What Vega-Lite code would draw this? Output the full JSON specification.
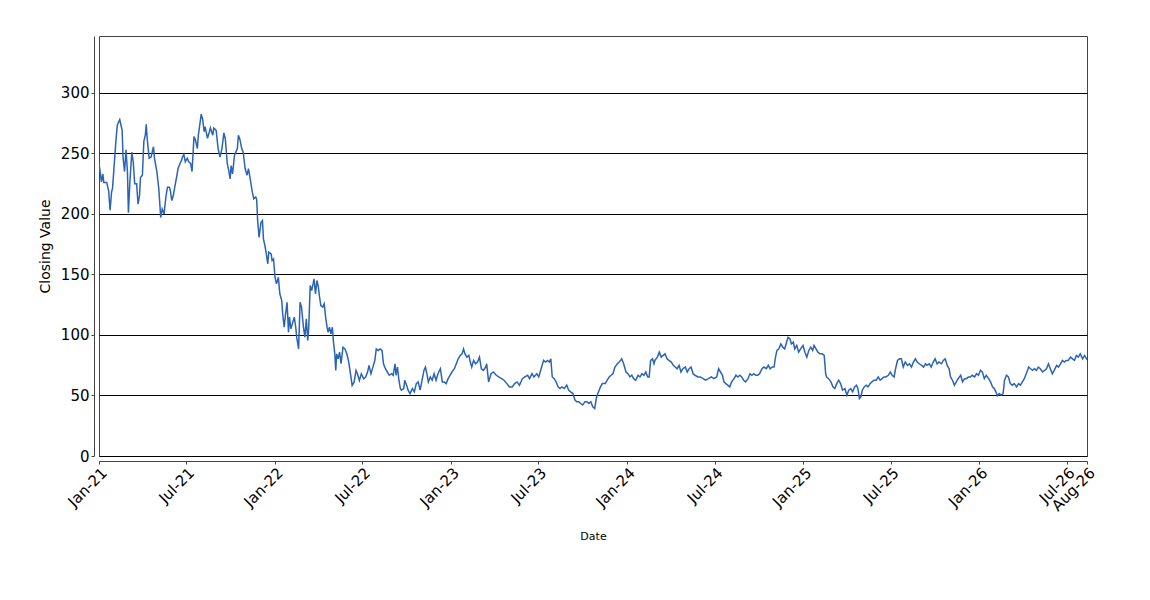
{
  "$schema": "https://vega.github.io/schema/vega-lite/v6.json",
  "autosize": {"type": "none"},
  "padding": {"left": 99, "top": 36, "right": 63, "bottom": 144},
  "width": 988,
  "height": 420,
  "background": "white",
  "config": {
    "view": {"stroke": "#444", "strokeWidth": 1},
    "font": "DejaVu Sans"
  },
  "data": {"values": [
    {"date":"2021-01-01","close":241.7},{"date":"2021-01-06","close":226.4},{"date":"2021-01-09","close":233},{"date":"2021-01-11","close":226},{"date":"2021-01-17","close":226},{"date":"2021-01-21","close":219},{"date":"2021-01-24","close":203},{"date":"2021-01-27","close":218},{"date":"2021-01-29","close":221},
    {"date":"2021-02-02","close":243},{"date":"2021-02-05","close":260},{"date":"2021-02-08","close":273.6},{"date":"2021-02-13","close":278},{"date":"2021-02-18","close":269},{"date":"2021-02-20","close":246},{"date":"2021-02-23","close":235},{"date":"2021-02-26","close":253},
    {"date":"2021-03-01","close":235},{"date":"2021-03-03","close":201},{"date":"2021-03-06","close":226},{"date":"2021-03-10","close":251},{"date":"2021-03-13","close":243},{"date":"2021-03-16","close":225},{"date":"2021-03-20","close":225},{"date":"2021-03-23","close":208},{"date":"2021-03-26","close":215},{"date":"2021-03-28","close":230},
    {"date":"2021-04-01","close":232},{"date":"2021-04-04","close":260},{"date":"2021-04-07","close":265},{"date":"2021-04-09","close":274},{"date":"2021-04-11","close":262},{"date":"2021-04-15","close":246},{"date":"2021-04-19","close":247},{"date":"2021-04-24","close":255.5},{"date":"2021-04-26","close":246},
    {"date":"2021-05-01","close":235},{"date":"2021-05-05","close":221},{"date":"2021-05-09","close":197},{"date":"2021-05-12","close":204},{"date":"2021-05-16","close":200},{"date":"2021-05-20","close":215},{"date":"2021-05-23","close":222},{"date":"2021-05-27","close":222},{"date":"2021-05-29","close":219},
    {"date":"2021-06-01","close":211},{"date":"2021-06-04","close":215},{"date":"2021-06-07","close":222},{"date":"2021-06-11","close":230.5},{"date":"2021-06-14","close":237.5},{"date":"2021-06-18","close":241.7},{"date":"2021-06-21","close":244},{"date":"2021-06-23","close":247},{"date":"2021-06-26","close":249},{"date":"2021-06-29","close":243},
    {"date":"2021-07-03","close":246},{"date":"2021-07-06","close":243},{"date":"2021-07-10","close":241.7},{"date":"2021-07-13","close":235},{"date":"2021-07-17","close":264},{"date":"2021-07-20","close":261},{"date":"2021-07-24","close":254},{"date":"2021-07-26","close":265},{"date":"2021-07-29","close":273.6},
    {"date":"2021-08-01","close":282.5},{"date":"2021-08-04","close":278},{"date":"2021-08-07","close":268},{"date":"2021-08-09","close":272},{"date":"2021-08-14","close":262.5},{"date":"2021-08-18","close":268},{"date":"2021-08-20","close":271},{"date":"2021-08-25","close":265},{"date":"2021-08-27","close":271},
    {"date":"2021-09-01","close":269},{"date":"2021-09-05","close":254},{"date":"2021-09-09","close":247},{"date":"2021-09-13","close":254},{"date":"2021-09-17","close":267},{"date":"2021-09-20","close":262},{"date":"2021-09-24","close":241.7},{"date":"2021-09-27","close":236},{"date":"2021-09-30","close":229},
    {"date":"2021-10-02","close":240},{"date":"2021-10-05","close":233},{"date":"2021-10-09","close":248.6},{"date":"2021-10-15","close":254},{"date":"2021-10-17","close":265},{"date":"2021-10-20","close":262},{"date":"2021-10-24","close":254},{"date":"2021-10-27","close":251},{"date":"2021-10-31","close":237.5},
    {"date":"2021-11-04","close":232},{"date":"2021-11-07","close":237.5},{"date":"2021-11-11","close":228},{"date":"2021-11-15","close":218},{"date":"2021-11-18","close":212.5},{"date":"2021-11-22","close":214},{"date":"2021-11-24","close":212},{"date":"2021-11-26","close":194.5},{"date":"2021-11-29","close":180.7},
    {"date":"2021-12-03","close":193},{"date":"2021-12-06","close":194.5},{"date":"2021-12-08","close":179.4},{"date":"2021-12-11","close":173.9},{"date":"2021-12-14","close":167},{"date":"2021-12-17","close":158.7},{"date":"2021-12-19","close":168.4},{"date":"2021-12-24","close":167},{"date":"2021-12-26","close":161.5},{"date":"2021-12-29","close":162.8},
    {"date":"2022-01-01","close":147.7},{"date":"2022-01-04","close":142.2},{"date":"2022-01-08","close":147.7},{"date":"2022-01-11","close":134},{"date":"2022-01-15","close":128.4},{"date":"2022-01-17","close":117.4},{"date":"2022-01-20","close":106.4},{"date":"2022-01-23","close":117.4},{"date":"2022-01-26","close":127},{"date":"2022-01-29","close":102.3},{"date":"2022-01-31","close":114.7},
    {"date":"2022-02-03","close":105},{"date":"2022-02-07","close":110.6},{"date":"2022-02-10","close":114.7},{"date":"2022-02-13","close":106.4},{"date":"2022-02-15","close":98.2},{"date":"2022-02-19","close":88.5},{"date":"2022-02-22","close":127},{"date":"2022-02-25","close":123},
    {"date":"2022-03-01","close":106.4},{"date":"2022-03-04","close":98.2},{"date":"2022-03-07","close":113.3},{"date":"2022-03-10","close":95.4},{"date":"2022-03-12","close":106.4},{"date":"2022-03-15","close":140.8},{"date":"2022-03-18","close":136.7},{"date":"2022-03-21","close":142.2},{"date":"2022-03-23","close":146.3},{"date":"2022-03-26","close":134},{"date":"2022-03-29","close":145},
    {"date":"2022-04-01","close":139.5},{"date":"2022-04-03","close":132.6},{"date":"2022-04-06","close":124.3},{"date":"2022-04-10","close":123},{"date":"2022-04-13","close":125.7},{"date":"2022-04-16","close":114.7},{"date":"2022-04-19","close":106.4},{"date":"2022-04-21","close":102.3},{"date":"2022-04-24","close":106.4},{"date":"2022-04-27","close":100.9},{"date":"2022-04-30","close":106.4},
    {"date":"2022-05-02","close":95.4},{"date":"2022-05-05","close":84.4},{"date":"2022-05-07","close":70.7},{"date":"2022-05-09","close":84.4},{"date":"2022-05-12","close":80.3},{"date":"2022-05-15","close":85.8},{"date":"2022-05-18","close":76.2},{"date":"2022-05-22","close":89.9},{"date":"2022-05-26","close":88.5},{"date":"2022-05-30","close":84.4},
    {"date":"2022-06-03","close":77.5},{"date":"2022-06-06","close":69.3},{"date":"2022-06-10","close":58.3},{"date":"2022-06-14","close":61},{"date":"2022-06-18","close":70.7},{"date":"2022-06-21","close":67.9},{"date":"2022-06-25","close":62.4},{"date":"2022-06-29","close":67.9},
    {"date":"2022-07-04","close":63.8},{"date":"2022-07-08","close":65.2},{"date":"2022-07-12","close":69.3},{"date":"2022-07-15","close":74.8},{"date":"2022-07-19","close":67.9},{"date":"2022-07-23","close":73.4},{"date":"2022-07-27","close":78.9},{"date":"2022-07-30","close":88.5},
    {"date":"2022-08-03","close":87.2},{"date":"2022-08-07","close":88.5},{"date":"2022-08-11","close":87.2},{"date":"2022-08-14","close":76.2},{"date":"2022-08-18","close":72.1},{"date":"2022-08-22","close":69.4},{"date":"2022-08-26","close":66.7},{"date":"2022-08-31","close":68},
    {"date":"2022-09-03","close":66.7},{"date":"2022-09-07","close":76.2},{"date":"2022-09-09","close":66.7},{"date":"2022-09-12","close":73.5},{"date":"2022-09-15","close":62.6},{"date":"2022-09-18","close":55.7},{"date":"2022-09-20","close":54.4},{"date":"2022-09-25","close":55.7},{"date":"2022-09-27","close":62.6},
    {"date":"2022-10-01","close":58.5},{"date":"2022-10-04","close":54.4},{"date":"2022-10-08","close":51.6},{"date":"2022-10-13","close":55.7},{"date":"2022-10-17","close":53},{"date":"2022-10-21","close":59.8},{"date":"2022-10-25","close":61.2},{"date":"2022-10-29","close":54.4},
    {"date":"2022-11-02","close":62.6},{"date":"2022-11-06","close":70.8},{"date":"2022-11-09","close":73.5},{"date":"2022-11-12","close":68},{"date":"2022-11-15","close":61.2},{"date":"2022-11-19","close":65.3},{"date":"2022-11-23","close":62.6},{"date":"2022-11-27","close":68},
    {"date":"2022-12-01","close":62.6},{"date":"2022-12-05","close":68},{"date":"2022-12-10","close":72.1},{"date":"2022-12-14","close":61.2},{"date":"2022-12-18","close":61.2},{"date":"2022-12-22","close":59.8},{"date":"2022-12-26","close":63.9},{"date":"2022-12-30","close":66.7},
    {"date":"2023-01-03","close":69.4},{"date":"2023-01-08","close":72.1},{"date":"2023-01-12","close":76.2},{"date":"2023-01-16","close":80.3},{"date":"2023-01-20","close":83.1},{"date":"2023-01-24","close":84.4},{"date":"2023-01-27","close":88.5},{"date":"2023-01-30","close":84.4},
    {"date":"2023-02-03","close":81.7},{"date":"2023-02-07","close":83.1},{"date":"2023-02-10","close":77.6},{"date":"2023-02-13","close":73.5},{"date":"2023-02-17","close":79},{"date":"2023-02-21","close":76.2},{"date":"2023-02-25","close":77.6},
    {"date":"2023-03-01","close":81.7},{"date":"2023-03-05","close":72.1},{"date":"2023-03-09","close":70.8},{"date":"2023-03-14","close":73.5},{"date":"2023-03-16","close":76.2},{"date":"2023-03-20","close":61.2},{"date":"2023-03-25","close":68},{"date":"2023-03-30","close":69.4},
    {"date":"2023-04-05","close":66.7},{"date":"2023-04-10","close":65.3},{"date":"2023-04-16","close":63.9},{"date":"2023-04-21","close":62.6},{"date":"2023-04-27","close":59.8},
    {"date":"2023-05-02","close":57.1},{"date":"2023-05-08","close":57.1},{"date":"2023-05-13","close":59.8},{"date":"2023-05-18","close":61.2},{"date":"2023-05-23","close":58.5},{"date":"2023-05-29","close":63.9},
    {"date":"2023-06-03","close":65.3},{"date":"2023-06-09","close":66.7},{"date":"2023-06-13","close":63.9},{"date":"2023-06-18","close":68},{"date":"2023-06-22","close":65.3},{"date":"2023-06-28","close":68},
    {"date":"2023-07-02","close":65.3},{"date":"2023-07-08","close":73.5},{"date":"2023-07-12","close":79},{"date":"2023-07-16","close":77.6},{"date":"2023-07-20","close":79},{"date":"2023-07-24","close":77.6},{"date":"2023-07-27","close":80.3},{"date":"2023-07-30","close":65.3},
    {"date":"2023-08-03","close":63.9},{"date":"2023-08-07","close":61.2},{"date":"2023-08-11","close":57.1},{"date":"2023-08-15","close":55.7},{"date":"2023-08-19","close":57.1},{"date":"2023-08-24","close":55.7},{"date":"2023-08-29","close":58.5},
    {"date":"2023-09-02","close":54.4},{"date":"2023-09-06","close":53},{"date":"2023-09-11","close":51.6},{"date":"2023-09-15","close":46.2},{"date":"2023-09-19","close":44.8},{"date":"2023-09-23","close":44.8},{"date":"2023-09-27","close":43.4},
    {"date":"2023-10-01","close":42.1},{"date":"2023-10-06","close":44.8},{"date":"2023-10-10","close":44.8},{"date":"2023-10-14","close":43.4},{"date":"2023-10-18","close":44.8},{"date":"2023-10-22","close":40.7},{"date":"2023-10-26","close":39.3},{"date":"2023-10-30","close":48.9},
    {"date":"2023-11-03","close":53},{"date":"2023-11-07","close":57.1},{"date":"2023-11-11","close":59.8},{"date":"2023-11-17","close":59.8},{"date":"2023-11-21","close":62.6},{"date":"2023-11-25","close":65.3},{"date":"2023-11-29","close":66.7},
    {"date":"2023-12-03","close":68},{"date":"2023-12-07","close":73.5},{"date":"2023-12-12","close":76.2},{"date":"2023-12-16","close":77.6},{"date":"2023-12-21","close":80.3},{"date":"2023-12-25","close":76.2},{"date":"2023-12-30","close":69.4},
    {"date":"2024-01-03","close":68},{"date":"2024-01-07","close":65.3},{"date":"2024-01-11","close":66.7},{"date":"2024-01-15","close":63.9},{"date":"2024-01-19","close":62.6},{"date":"2024-01-24","close":66.7},{"date":"2024-01-28","close":65.3},
    {"date":"2024-02-01","close":68},{"date":"2024-02-05","close":66.7},{"date":"2024-02-09","close":69.4},{"date":"2024-02-13","close":65.3},{"date":"2024-02-16","close":65.3},{"date":"2024-02-19","close":79},{"date":"2024-02-23","close":80.3},{"date":"2024-02-26","close":76.2},{"date":"2024-02-28","close":79},
    {"date":"2024-03-04","close":81.7},{"date":"2024-03-08","close":85.8},{"date":"2024-03-12","close":81.7},{"date":"2024-03-16","close":83.1},{"date":"2024-03-20","close":84.4},{"date":"2024-03-24","close":80.3},{"date":"2024-03-28","close":79},
    {"date":"2024-04-02","close":77.6},{"date":"2024-04-06","close":74.9},{"date":"2024-04-10","close":73.5},{"date":"2024-04-14","close":72.1},{"date":"2024-04-18","close":74.9},{"date":"2024-04-22","close":69.4},{"date":"2024-04-26","close":72.1},
    {"date":"2024-05-01","close":73.5},{"date":"2024-05-05","close":69.4},{"date":"2024-05-09","close":72.1},{"date":"2024-05-13","close":73.5},{"date":"2024-05-17","close":68},{"date":"2024-05-21","close":66.7},{"date":"2024-05-27","close":65.3},
    {"date":"2024-06-01","close":65.3},{"date":"2024-06-07","close":63.9},{"date":"2024-06-12","close":62.6},{"date":"2024-06-18","close":63.9},{"date":"2024-06-24","close":65.3},{"date":"2024-06-29","close":63.9},
    {"date":"2024-07-05","close":65.3},{"date":"2024-07-09","close":72.1},{"date":"2024-07-13","close":69.4},{"date":"2024-07-17","close":66.7},{"date":"2024-07-20","close":61.2},{"date":"2024-07-24","close":59.8},{"date":"2024-07-28","close":58.5},
    {"date":"2024-08-01","close":57.1},{"date":"2024-08-05","close":61.2},{"date":"2024-08-10","close":63.9},{"date":"2024-08-14","close":66.7},{"date":"2024-08-18","close":65.3},{"date":"2024-08-22","close":66.7},{"date":"2024-08-26","close":65.3},{"date":"2024-08-30","close":62.6},
    {"date":"2024-09-03","close":61.2},{"date":"2024-09-08","close":63.9},{"date":"2024-09-12","close":68},{"date":"2024-09-16","close":66.7},{"date":"2024-09-20","close":68},{"date":"2024-09-24","close":66.7},{"date":"2024-09-28","close":66.7},
    {"date":"2024-10-02","close":68},{"date":"2024-10-07","close":72.1},{"date":"2024-10-11","close":73.5},{"date":"2024-10-16","close":72.1},{"date":"2024-10-20","close":74.9},{"date":"2024-10-24","close":72.1},{"date":"2024-10-28","close":73.5},
    {"date":"2024-11-01","close":73.5},{"date":"2024-11-04","close":81.7},{"date":"2024-11-07","close":87.2},{"date":"2024-11-11","close":88.5},{"date":"2024-11-15","close":92.6},{"date":"2024-11-19","close":89.9},{"date":"2024-11-23","close":88.5},{"date":"2024-11-27","close":94},{"date":"2024-11-30","close":98.1},
    {"date":"2024-12-04","close":96.7},{"date":"2024-12-07","close":92.6},{"date":"2024-12-11","close":94},{"date":"2024-12-14","close":88.5},{"date":"2024-12-18","close":91.3},{"date":"2024-12-22","close":85.8},{"date":"2024-12-26","close":88.5},{"date":"2024-12-31","close":91.3},
    {"date":"2025-01-04","close":85.8},{"date":"2025-01-08","close":81.7},{"date":"2025-01-12","close":87.2},{"date":"2025-01-16","close":89.9},{"date":"2025-01-20","close":87.2},{"date":"2025-01-23","close":91.3},{"date":"2025-01-27","close":88.5},{"date":"2025-01-31","close":85.8},
    {"date":"2025-02-04","close":84.4},{"date":"2025-02-09","close":84.4},{"date":"2025-02-13","close":83.1},{"date":"2025-02-16","close":68},{"date":"2025-02-18","close":65.3},{"date":"2025-02-22","close":63.9},{"date":"2025-02-27","close":61.2},
    {"date":"2025-03-03","close":57.1},{"date":"2025-03-07","close":55.7},{"date":"2025-03-11","close":59.8},{"date":"2025-03-15","close":62.6},{"date":"2025-03-19","close":59.8},{"date":"2025-03-23","close":54.4},{"date":"2025-03-28","close":55.7},
    {"date":"2025-04-01","close":50.3},{"date":"2025-04-05","close":54.4},{"date":"2025-04-09","close":55.7},{"date":"2025-04-13","close":53},{"date":"2025-04-17","close":57.1},{"date":"2025-04-21","close":58.5},{"date":"2025-04-24","close":55.7},{"date":"2025-04-27","close":47.5},{"date":"2025-04-30","close":48.9},
    {"date":"2025-05-03","close":54.4},{"date":"2025-05-07","close":57.1},{"date":"2025-05-11","close":58.5},{"date":"2025-05-15","close":57.1},{"date":"2025-05-19","close":59.8},{"date":"2025-05-23","close":61.2},{"date":"2025-05-27","close":62.6},
    {"date":"2025-06-01","close":62.6},{"date":"2025-06-05","close":65.3},{"date":"2025-06-09","close":62.6},{"date":"2025-06-13","close":63.9},{"date":"2025-06-17","close":65.3},{"date":"2025-06-21","close":65.3},{"date":"2025-06-26","close":66.7},{"date":"2025-06-30","close":69.4},
    {"date":"2025-07-04","close":66.7},{"date":"2025-07-08","close":65.3},{"date":"2025-07-11","close":72.1},{"date":"2025-07-15","close":79},{"date":"2025-07-19","close":80.3},{"date":"2025-07-23","close":80.3},{"date":"2025-07-27","close":73.5},{"date":"2025-07-31","close":77.6},
    {"date":"2025-08-05","close":74.9},{"date":"2025-08-09","close":76.2},{"date":"2025-08-13","close":73.5},{"date":"2025-08-17","close":77.6},{"date":"2025-08-21","close":80.3},{"date":"2025-08-25","close":77.6},{"date":"2025-08-29","close":76.2},
    {"date":"2025-09-03","close":74.9},{"date":"2025-09-07","close":73.5},{"date":"2025-09-11","close":76.2},{"date":"2025-09-14","close":74.9},{"date":"2025-09-19","close":76.2},{"date":"2025-09-23","close":73.5},{"date":"2025-09-27","close":77.6},
    {"date":"2025-10-01","close":80.3},{"date":"2025-10-05","close":76.2},{"date":"2025-10-09","close":77.6},{"date":"2025-10-14","close":76.2},{"date":"2025-10-18","close":79},{"date":"2025-10-22","close":80.3},{"date":"2025-10-26","close":74.9},{"date":"2025-10-30","close":72.1},
    {"date":"2025-11-02","close":65.3},{"date":"2025-11-06","close":62.6},{"date":"2025-11-10","close":58.5},{"date":"2025-11-14","close":61.2},{"date":"2025-11-18","close":63.9},{"date":"2025-11-23","close":66.7},{"date":"2025-11-27","close":61.2},
    {"date":"2025-12-01","close":63.9},{"date":"2025-12-05","close":63.9},{"date":"2025-12-09","close":65.3},{"date":"2025-12-13","close":65.3},{"date":"2025-12-17","close":66.7},{"date":"2025-12-22","close":65.3},{"date":"2025-12-26","close":68},{"date":"2025-12-30","close":66.7},
    {"date":"2026-01-03","close":70.8},{"date":"2026-01-07","close":69.4},{"date":"2026-01-11","close":63.9},{"date":"2026-01-15","close":66.7},{"date":"2026-01-20","close":63.9},{"date":"2026-01-24","close":61.2},{"date":"2026-01-28","close":57.1},
    {"date":"2026-02-01","close":55.7},{"date":"2026-02-04","close":53},{"date":"2026-02-07","close":49.7},{"date":"2026-02-11","close":51.6},{"date":"2026-02-15","close":50.3},{"date":"2026-02-19","close":51.6},{"date":"2026-02-22","close":62.6},{"date":"2026-02-26","close":66.7},
    {"date":"2026-03-02","close":65.3},{"date":"2026-03-06","close":59.8},{"date":"2026-03-10","close":58.5},{"date":"2026-03-14","close":59.8},{"date":"2026-03-19","close":57.1},{"date":"2026-03-23","close":59.8},{"date":"2026-03-27","close":58.5},{"date":"2026-03-31","close":61.2},
    {"date":"2026-04-04","close":63.9},{"date":"2026-04-08","close":68},{"date":"2026-04-13","close":73.5},{"date":"2026-04-17","close":72.1},{"date":"2026-04-21","close":70.8},{"date":"2026-04-25","close":72.1},{"date":"2026-04-29","close":70.8},
    {"date":"2026-05-03","close":73.5},{"date":"2026-05-07","close":72.1},{"date":"2026-05-12","close":69.4},{"date":"2026-05-16","close":70.8},{"date":"2026-05-20","close":72.1},{"date":"2026-05-24","close":76.2},{"date":"2026-05-28","close":72.1},
    {"date":"2026-06-01","close":68},{"date":"2026-06-05","close":70.8},{"date":"2026-06-10","close":74.9},{"date":"2026-06-14","close":73.5},{"date":"2026-06-18","close":76.2},{"date":"2026-06-22","close":79},{"date":"2026-06-26","close":77.6},{"date":"2026-06-30","close":79},
    {"date":"2026-07-04","close":79},{"date":"2026-07-09","close":81.7},{"date":"2026-07-13","close":80.3},{"date":"2026-07-17","close":79},{"date":"2026-07-21","close":83.1},{"date":"2026-07-25","close":81.7},{"date":"2026-07-29","close":84.4},
    {"date":"2026-08-03","close":80.3},{"date":"2026-08-07","close":83.1},{"date":"2026-08-11","close":80.3},{"date":"2026-08-12","close":81}
  ]},
  "mark": {"type": "line", "color": "#2c64b4", "strokeWidth": 1.5, "clip": true},
  "encoding": {
    "x": {
      "field": "date",
      "type": "temporal",
      "scale": {
        "type": "utc",
        "domain": [
          {"year": 2021, "month": 1, "date": 1, "utc": true},
          {"year": 2026, "month": 8, "date": 12, "utc": true}
        ]
      },
      "axis": {
        "title": "Date",
        "titleFont": "DejaVu Sans",
        "titleFontSize": 11,
        "titleFontWeight": "normal",
        "titleColor": "#000",
        "titlePadding": 17,
        "values": [
          {"year": 2021, "month": 1, "date": 1, "utc": true},
          {"year": 2021, "month": 7, "date": 1, "utc": true},
          {"year": 2022, "month": 1, "date": 1, "utc": true},
          {"year": 2022, "month": 7, "date": 1, "utc": true},
          {"year": 2023, "month": 1, "date": 1, "utc": true},
          {"year": 2023, "month": 7, "date": 1, "utc": true},
          {"year": 2024, "month": 1, "date": 1, "utc": true},
          {"year": 2024, "month": 7, "date": 1, "utc": true},
          {"year": 2025, "month": 1, "date": 1, "utc": true},
          {"year": 2025, "month": 7, "date": 1, "utc": true},
          {"year": 2026, "month": 1, "date": 1, "utc": true},
          {"year": 2026, "month": 7, "date": 1, "utc": true},
          {"year": 2026, "month": 8, "date": 12, "utc": true}
        ],
        "format": "%b-%y",
        "labelAngle": -45,
        "labelFontSize": 15,
        "labelColor": "#000",
        "labelOverlap": false,
        "labelFlush": false,
        "labelBound": false,
        "labelPadding": 1,
        "offset": 5,
        "domainColor": "#444",
        "tickColor": "#444",
        "tickSize": 3,
        "grid": false
      }
    },
    "y": {
      "field": "close",
      "type": "quantitative",
      "scale": {"domain": [0, 347], "nice": false, "zero": true},
      "axis": {
        "title": "Closing Value",
        "titleFont": "DejaVu Sans",
        "titleFontSize": 14,
        "titleFontWeight": "normal",
        "titleColor": "#000",
        "titlePadding": 8,
        "values": [0, 50, 100, 150, 200, 250, 300],
        "labelFontSize": 15,
        "labelColor": "#000",
        "labelPadding": 2,
        "offset": 5,
        "domainColor": "#444",
        "tickColor": "#444",
        "tickSize": 3,
        "grid": true,
        "gridColor": "#000",
        "gridOpacity": 1,
        "gridWidth": 1
      }
    }
  }
}
